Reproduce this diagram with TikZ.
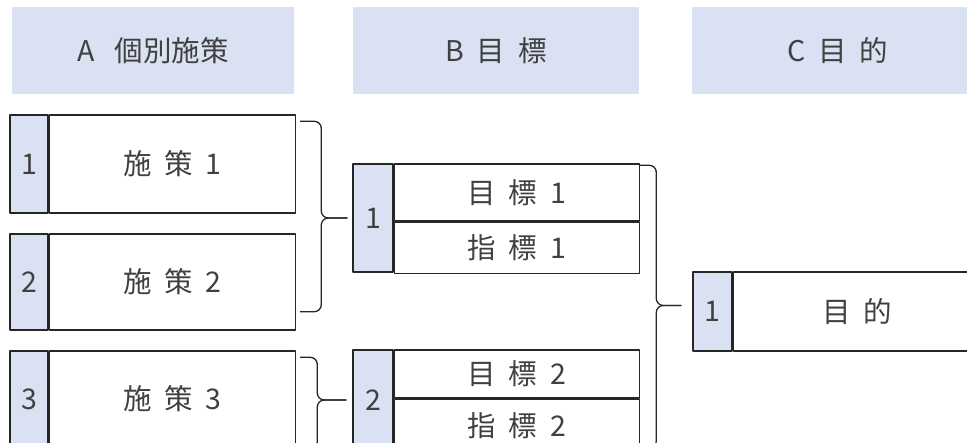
\documentclass[tikz,border=0pt]{standalone}
\usepackage{fontspec}
\setmainfont{Noto Sans CJK JP}[WordSpace=2.0]
\usetikzlibrary{positioning,calc}
\definecolor{cellblue}{HTML}{D9E1F2}
\definecolor{txtgray}{HTML}{404040}
\definecolor{linegray}{HTML}{262626}
\tikzset{
  hdr/.style={fill=cellblue, minimum height=87pt, inner sep=0pt, text=txtgray},
  numcell/.style={draw=linegray, line width=1.4pt, fill=cellblue, minimum width=39pt, inner sep=0pt, text=txtgray},
  txtcell/.style={draw=linegray, line width=1.4pt, inner sep=0pt, text=txtgray},
  brk/.style={draw=linegray, line width=1.3pt, rounded corners=7pt}
}
\begin{document}
\begin{tikzpicture}[x=1pt, y=-1pt, font=\fontsize{28.5}{32}\selectfont, line join=round]
	\useasboundingbox (0,0) rectangle (967,443);
	% headers
	\node[hdr, minimum width=282pt] (hA) at (153,50.5) {A\hspace{0.7em}個別施策};
	\node[hdr, minimum width=286pt] (hB) at (496,50.5) {B 目 標};
	\node[hdr, minimum width=292pt] (hC) at (838,50.5) {C 目 的};
	% A: individual measures
	\node[numcell, minimum width=38pt, minimum height=98pt] (sn1) at (29,164) {1};
	\node[txtcell, minimum width=246pt, minimum height=98pt, right=0pt of sn1] (st1) {施 策 1};
	\node[numcell, minimum width=38pt, minimum height=96pt] (sn2) at (29,282) {2};
	\node[txtcell, minimum width=246pt, minimum height=96pt, right=0pt of sn2] (st2) {施 策 2};
	\node[numcell, minimum width=38pt, minimum height=96pt] (sn3) at (29,399) {3};
	\node[txtcell, minimum width=246pt, minimum height=96pt, right=0pt of sn3] (st3) {施 策 3};
	% B: goals and indicators
	\node[numcell, minimum width=40pt, minimum height=108pt] (bn1) at (373,218) {1};
	\node[txtcell, minimum width=245pt, minimum height=57pt, anchor=north west] (bg1) at (bn1.north east) {目 標 1};
	\node[txtcell, minimum width=245pt, minimum height=51pt, anchor=north west] (bi1) at (bg1.south west) {指 標 1};
	\node[numcell, minimum width=40pt, minimum height=100pt] (bn2) at (373,400) {2};
	\node[txtcell, minimum width=245pt, minimum height=48pt, anchor=north west] (bg2) at (bn2.north east) {目 標 2};
	\node[txtcell, minimum width=245pt, minimum height=52pt, anchor=north west] (bi2) at (bg2.south west) {指 標 2};
	% C: purpose
	\node[numcell, minimum height=79pt] (cn) at (712.5,311.5) {1};
	\node[txtcell, minimum width=248pt, minimum height=79pt, right=0pt of cn] (ct) {目 的};
	% braces
	\coordinate (k1t) at ($(st1.north east)+(4,7)$);
	\coordinate (k1b) at ($(st2.south east)+(4,-19)$);
	\coordinate (k1x) at ($(bn1.west)+(-31,0)$);
	\coordinate (k1e) at ($(bn1.west)+(-5,0)$);
	\draw[brk] (k1t) -| (k1x) -- (k1e);
	\draw[brk] (k1b) -| (k1x) -- (k1e);
	\coordinate (k2t) at ($(st3.north east)+(4,7)$);
	\coordinate (k2b) at ($(st3.south east)+(4,1)$);
	\coordinate (k2x) at ($(bn2.west)+(-35,0)$);
	\coordinate (k2e) at ($(bn2.west)+(-6,0)$);
	\draw[brk] (k2t) -| (k2x) -- (k2e);
	\draw[brk] (k2b) -| (k2x) -- (k2e);
	\coordinate (k3t) at ($(bg1.north east)+(0,2)$);
	\coordinate (k3b) at ($(bi2.south east)+(0,-4)$);
	\coordinate (k3x) at ($(cn.west)+(-36,-6)$);
	\coordinate (k3e) at ($(cn.west)+(-11,-6)$);
	\draw[brk] (k3t) -| (k3x) -- (k3e);
	\draw[brk] (k3b) -| (k3x) -- (k3e);
\end{tikzpicture}
\end{document}
